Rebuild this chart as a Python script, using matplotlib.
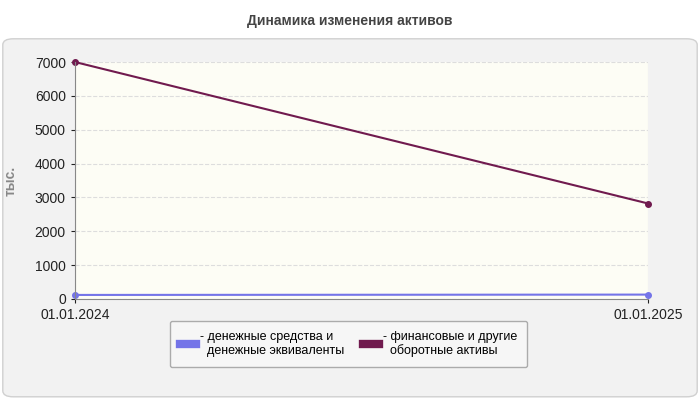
import matplotlib
matplotlib.use("Agg")
import matplotlib.pyplot as plt
from matplotlib.patches import FancyBboxPatch

plt.rcParams["font.family"] = ["Liberation Sans", "DejaVu Sans"]

dates = ["01.01.2024", "01.01.2025"]
cash = [120, 130]
fin = [7000, 2820]
labels = ["- денежные средства и\n  денежные эквиваленты", "- финансовые и другие\n  оборотные активы"]
colors = ["#7474e8", "#701a4e"]

fig = plt.figure(figsize=(7, 4), dpi=100)
fig.patch.set_facecolor("white")
panel = FancyBboxPatch((0.004, 0.008), 0.992, 0.895, boxstyle="round,pad=0,rounding_size=0.015",
                       transform=fig.transFigure, facecolor="#f2f2f2", edgecolor="#d0d0d0", lw=1,
                       zorder=-10)
fig.patches.append(panel)
fig.text(0.5, 0.948, "Динамика изменения активов", ha="center", va="center",
         fontsize=10, fontweight="bold", color="#444444")

ax = fig.add_axes([0.107, 0.2525, 0.819, 0.5925])
ax.set_facecolor("#fdfdf5")
x = list(range(len(dates)))
for y, c, l in zip([cash, fin], colors, labels):
    ax.plot(x, y, color=c, lw=1.5, marker="o", ms=4, label=l, clip_on=False)
ax.set_xlim(0, 1)
ax.set_ylim(0, 7000)
ax.set_yticks(range(0, 7001, 1000))
ax.set_xticks(x)
ax.set_xticklabels(dates)
ax.grid(axis="y", ls="--", color="#dddddd", lw=0.8)
ax.grid(axis="x", color="#e0e0e0", lw=0.8)
for s in ["top", "right"]:
    ax.spines[s].set_visible(False)
ax.spines["left"].set_color("#888888")
ax.spines["bottom"].set_color("#888888")
ax.tick_params(labelsize=10, colors="#222222", length=3)
ax.set_ylabel("тыс.", color="#888888", fontsize=10, fontweight="bold", labelpad=12)

leg = fig.legend(loc="center", bbox_to_anchor=(0.498, 0.14), ncol=2, fontsize=9,
                 frameon=True, handlelength=1.3, handleheight=0.6, fancybox=True,
                 borderpad=0.8, columnspacing=1.5, handletextpad=0.3)
leg.get_frame().set_edgecolor("#999999")
leg.get_frame().set_facecolor("#f8f8f8")
for h in leg.legend_handles:
    h.set_linewidth(6)
    h.set_marker("")
fig.savefig("out.png", dpi=100)
